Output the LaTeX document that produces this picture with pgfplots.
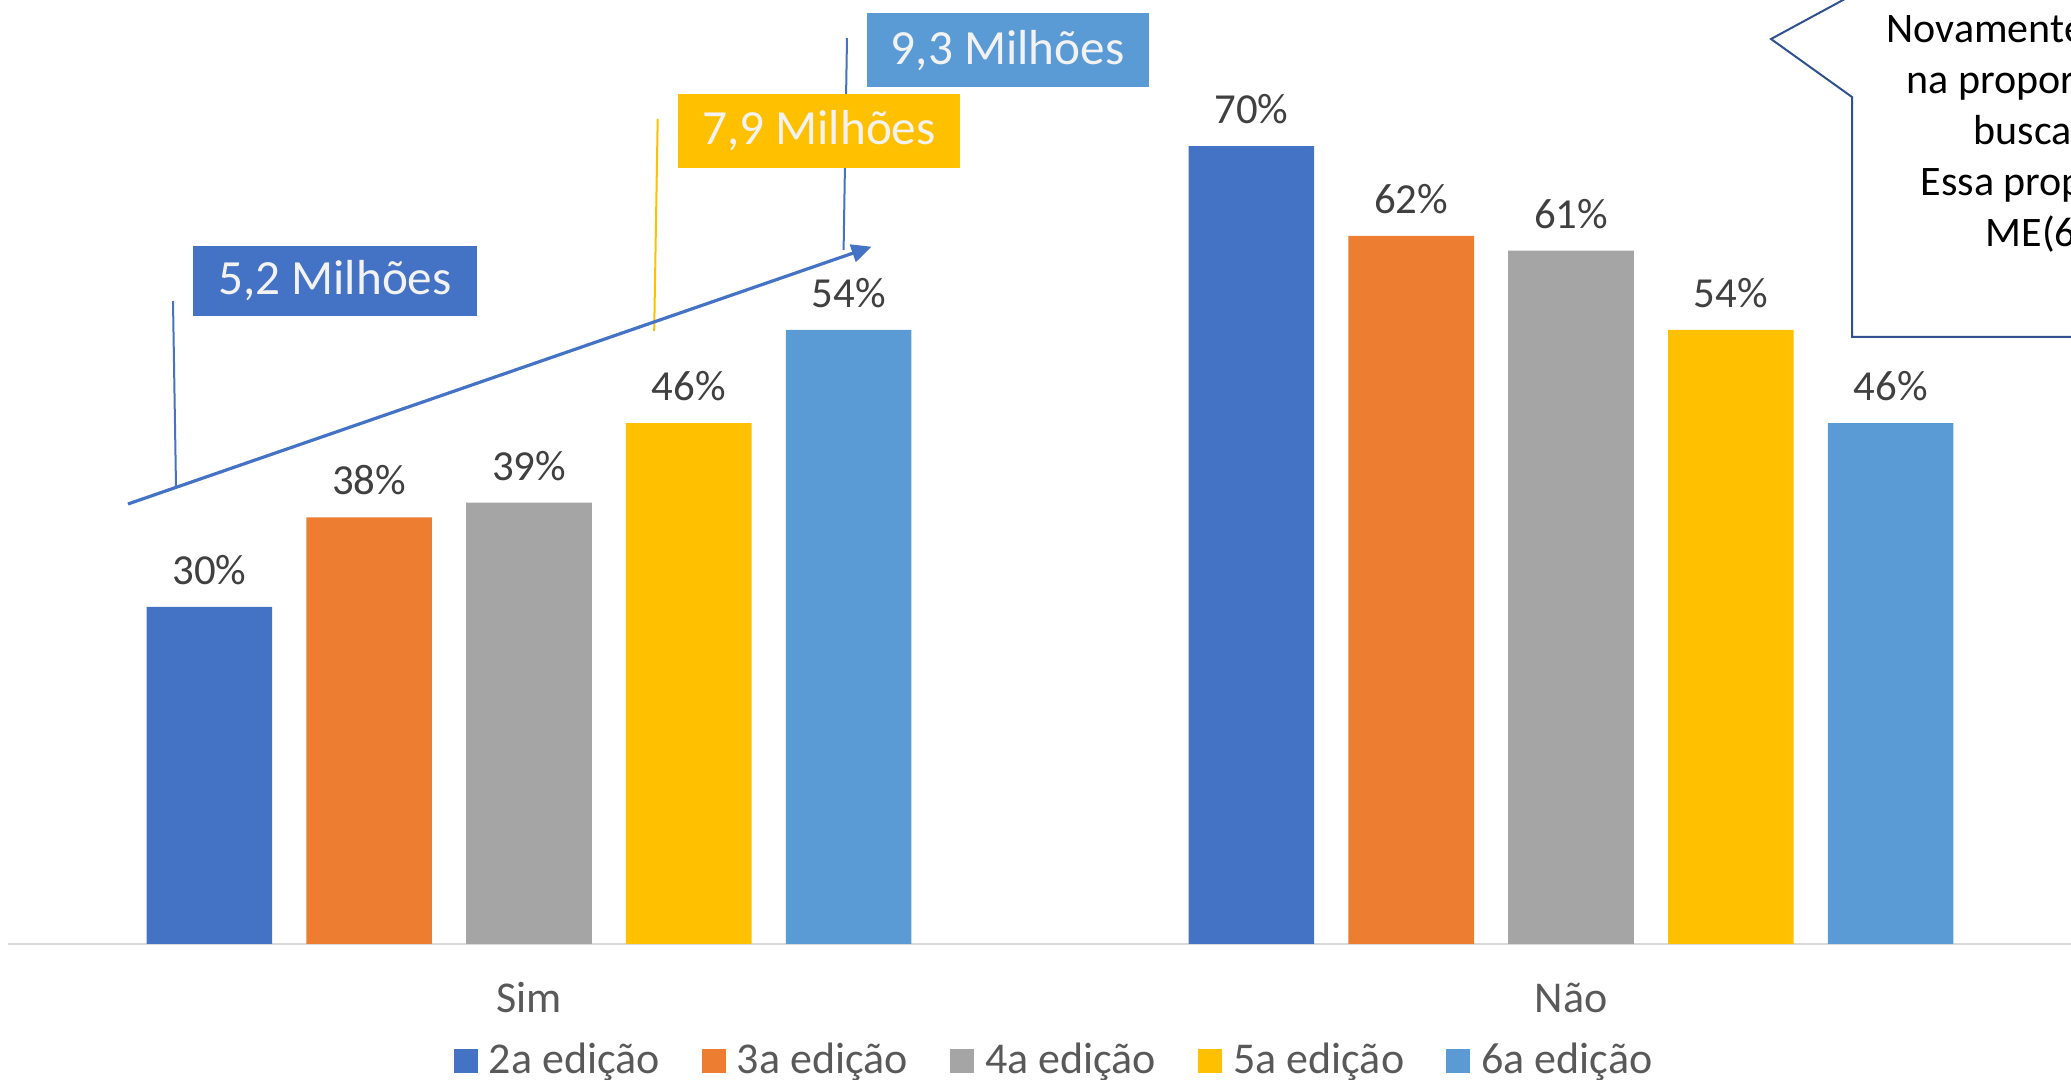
\documentclass[border=0pt]{standalone}
\usepackage{fontspec}
\setmainfont{Carlito}
\usepackage{pgfplots}
\pgfplotsset{compat=1.18}
\usetikzlibrary{arrows.meta}

\definecolor{ed2}{HTML}{4472C4}
\definecolor{ed3}{HTML}{ED7D31}
\definecolor{ed4}{HTML}{A5A5A5}
\definecolor{ed5}{HTML}{FFC000}
\definecolor{ed6}{HTML}{5B9BD5}
\definecolor{txtgray}{HTML}{595959}
\definecolor{lblgray}{HTML}{404040}
\definecolor{axgray}{HTML}{D9D9D9}
\definecolor{callout}{HTML}{2F528F}
\definecolor{boxtxt}{HTML}{F2F2F2}

\begin{document}
\begin{tikzpicture}[x=0.25pt,y=-0.25pt]
\begin{axis}[
  at={(2pt,-236pt)}, anchor=south west,
  scale only axis, width=521pt, height=227pt,
  xmin=-0.5, xmax=1.5, ymin=0, ymax=80,
  axis y line=none, axis x line*=bottom,
  x axis line style={draw=axgray, line width=0.5pt, -},
  xtick={0,1}, xticklabels={Sim,Não}, major tick length=0pt,
  xticklabel style={anchor=base, yshift=-17.2pt, text=txtgray,
    font=\fontsize{11}{13}\selectfont},
  ybar, bar width=31.4pt,
  /pgf/number format/assume math mode=true,
  nodes near coords={\pgfmathprintnumber[fixed,precision=0]{\pgfplotspointmeta}\%},
  every node near coord/.append style={anchor=base, yshift=5.6pt,
    inner sep=0pt, text=lblgray, font=\fontsize{10.7}{12}\selectfont},
  legend columns=5,
  legend image code/.code={\fill[#1] (0pt,-3pt) rectangle (6pt,3pt);},
  legend style={at={(0.5,-0.129)}, anchor=center, xshift=1.75pt,
    draw=none, fill=none, text=txtgray,
    font=\fontsize{11}{13}\selectfont,
    /tikz/every odd column/.append style={column sep=0.8pt},
    /tikz/every even column/.append style={column sep=8.5pt}},
]
\addplot[fill=ed2, draw=none, bar shift=-79.9pt] coordinates {(0,29.7) (1,70.3)};
\addplot[fill=ed3, draw=none, bar shift=-39.95pt] coordinates {(0,37.6) (1,62.4)};
\addplot[fill=ed4, draw=none, bar shift=0pt] coordinates {(0,38.9) (1,61.1)};
\addplot[fill=ed5, draw=none, bar shift=39.95pt] coordinates {(0,45.9) (1,54.1)};
\addplot[fill=ed6, draw=none, bar shift=79.9pt] coordinates {(0,54.1) (1,45.9)};
\legend{2a edição, 3a edição, 4a edição, 5a edição, 6a edição}
\end{axis}

% leader lines and trend arrow
\draw[ed2, line width=0.5pt] (173,301) -- (176,486);
\draw[ed5, line width=0.5pt] (657.7,119) -- (654.2,331);
\draw[ed2, line width=0.5pt] (847,38) -- (843.6,250);
\draw[ed2, line width=0.8pt, -{Triangle[length=5pt,width=4.5pt]}] (128,504) -- (871.6,246.7);

% value boxes
\fill[ed2] (193,246) rectangle (477,316);
\node[text=boxtxt, font=\fontsize{12.3}{14}\selectfont] at (335,281) {5,2 Milhões};
\fill[ed5] (677.6,93.8) rectangle (960.3,167.7);
\node[text=boxtxt, font=\fontsize{12.3}{14}\selectfont] at (819,130.8) {7,9 Milhões};
\fill[ed6] (866.5,13.2) rectangle (1149,87.2);
\node[text=boxtxt, font=\fontsize{12.3}{14}\selectfont] at (1007.7,50.2) {9,3 Milhões};

% callout on the right (cut by the page edge, as in the reference)
\filldraw[draw=callout, fill=white, line width=0.5pt]
  (1880,-20) -- (1771,39) -- (1852,97) -- (1852,337) -- (2100,337);
\begin{scope}[every node/.style={anchor=base west, inner sep=0pt,
    font=\fontsize{10.5}{12}\selectfont}]
\node at (1886,43) {Novamente};
\node at (1906,94) {na propor};
\node at (1973,145) {busca};
\node at (1920,196) {Essa prop};
\node at (1985,247) {ME(6};
\end{scope}

\pgfresetboundingbox
\useasboundingbox (0,0) rectangle (2071,1080);
\end{tikzpicture}
\end{document}
